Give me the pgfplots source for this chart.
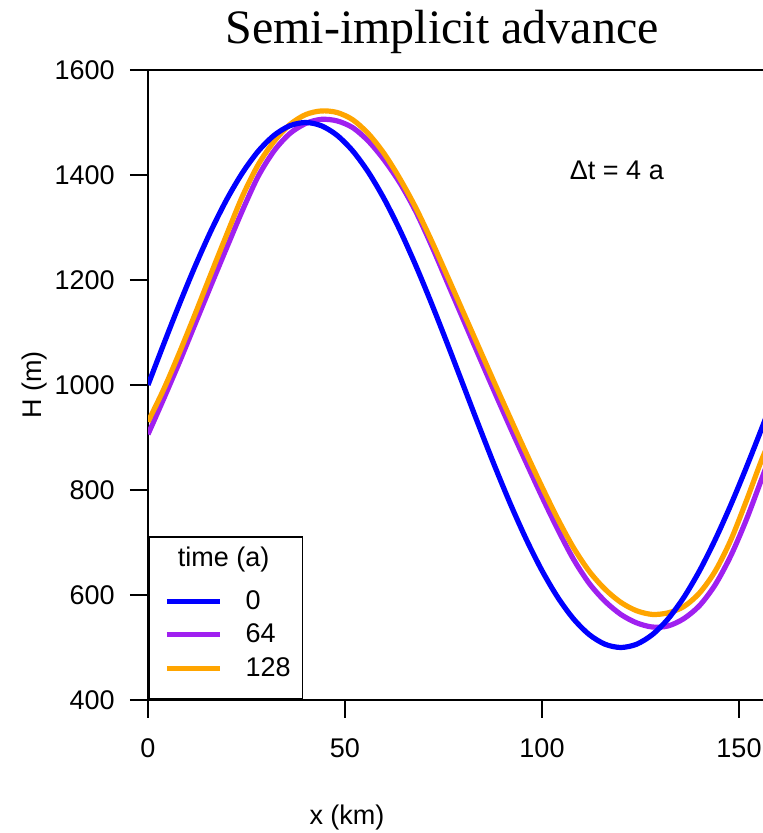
\documentclass[border=0pt]{standalone}
\usepackage{fontspec}
\setmainfont{Liberation Sans}
\newfontfamily\titlefont{Liberation Serif}
\usepackage{pgfplots}
\pgfplotsset{compat=1.18}
\definecolor{rblue}{RGB}{0,0,255}
\definecolor{rpurple}{RGB}{160,32,240}
\definecolor{rorange}{RGB}{255,165,0}
\newcommand{\lblfont}{\fontsize{13.5}{15}\selectfont}
\begin{document}
\begin{tikzpicture}
\begin{axis}[
  at={(74pt,66.5pt)}, anchor=south west,
  scale only axis, width=334.9pt, height=315pt,
  xmin=0, xmax=170, ymin=400, ymax=1600,
  xtick={0,50,100,150}, ytick={400,600,800,1000,1200,1400,1600},
  tick align=outside, tick pos=left,
  major tick length=9pt,
  axis line style={line width=0.9pt},
  every tick/.style={black, line width=0.9pt},
  tick label style={font=\lblfont},
  /pgf/number format/assume math mode=true,
  /pgf/number format/1000 sep={},
  yticklabel style={inner sep=0pt, xshift=-7.5pt},
  xticklabel style={inner sep=0pt, yshift=-10pt},
  legend style={at={(axis cs:0,400)}, anchor=south west, draw=black, line width=0.9pt,
    fill=white, inner xsep=6pt, inner ysep=10pt, row sep=5.75pt, column sep=11.5pt,
    nodes={inner sep=0pt}, font=\lblfont},
  legend cell align=left,
  legend image code/.code={\path[draw=none] (0pt,0pt); \draw[#1] (3pt,0pt) -- (29.5pt,0pt);},
]
\addlegendimage{legend image code/.code={\path[draw=none, fill=none] (0pt,-6.5pt) rectangle (29.5pt,4.5pt);
  \node[overlay, draw=none, fill=none, anchor=west, inner sep=0pt, font=\lblfont] at (8pt,4pt) {time (a)};}}
\addlegendentry{}
\addlegendimage{rblue, line width=2.6pt}
\addlegendentry{0}
\addlegendimage{rpurple, line width=2.6pt}
\addlegendentry{64}
\addlegendimage{rorange, line width=2.6pt}
\addlegendentry{128}

% t = 64 a
\addplot[rpurple, line width=2.6pt, smooth, forget plot] coordinates {
(0,906)(4,974)(8,1044)(12,1117)(16,1190)(20,1262)(24,1333)(28,1398)(32,1446)(36,1479)
(40,1498)(44,1506)(48,1503)(52,1490)(56,1464)(60,1428)(64,1384)(68,1330)(72,1265)(76,1195)
(80,1125)(84,1055)(88,986)(92,918)(96,852)(100,787)(104,725)(108,668)(112,622)(116,588)
(120,563)(124,547)(128,539)(132,541)(136,555)(140,580)(144,620)(148,676)(152,746)(156,826)
(160,906)(164,974)};
% t = 128 a
\addplot[rorange, line width=2.6pt, smooth, forget plot] coordinates {
(0,930)(4,992)(8,1062)(12,1136)(16,1212)(20,1287)(24,1360)(28,1420)(32,1464)(36,1496)
(40,1515)(44,1522)(48,1519)(52,1505)(56,1478)(60,1440)(64,1392)(68,1337)(72,1274)(76,1207)
(80,1139)(84,1071)(88,1003)(92,936)(96,870)(100,806)(104,745)(108,690)(112,645)(116,611)
(120,586)(124,570)(128,563)(132,566)(136,578)(140,604)(144,646)(148,706)(152,782)(156,862)
(160,930)(164,992)};
% t = 0 a
\addplot[rblue, line width=2.6pt, smooth, forget plot] coordinates {
(0,1000)(4,1078.2)(8,1154.5)(12,1227.0)(16,1293.9)(20,1353.6)(24,1404.5)(28,1445.5)(32,1475.5)(36,1493.8)
(40,1500)(44,1493.8)(48,1475.5)(52,1445.5)(56,1404.5)(60,1353.6)(64,1293.9)(68,1227.0)(72,1154.5)(76,1078.2)
(80,1000)(84,921.8)(88,845.5)(92,773.0)(96,706.1)(100,646.4)(104,595.5)(108,554.5)(112,524.5)(116,506.2)
(120,500)(124,506.2)(128,524.5)(132,554.5)(136,595.5)(140,646.4)(144,706.1)(148,773.0)(152,845.5)(156,921.8)
(160,1000)(164,1078.2)};
\node[anchor=base, font=\lblfont] at (axis cs:119,1392) {Δt = 4 a};
\end{axis}
\node[anchor=base, font=\titlefont\fontsize{24}{28}\selectfont] at (221pt,394.5pt) {Semi-implicit advance};
\node[rotate=90, font=\lblfont] at (17.5pt,224pt) {H (m)};
\node[font=\lblfont] at (173.5pt,7.5pt) {x (km)};
\pgfresetboundingbox
\useasboundingbox (0,0) rectangle (381.5pt,416.5pt);
\end{tikzpicture}
\end{document}
